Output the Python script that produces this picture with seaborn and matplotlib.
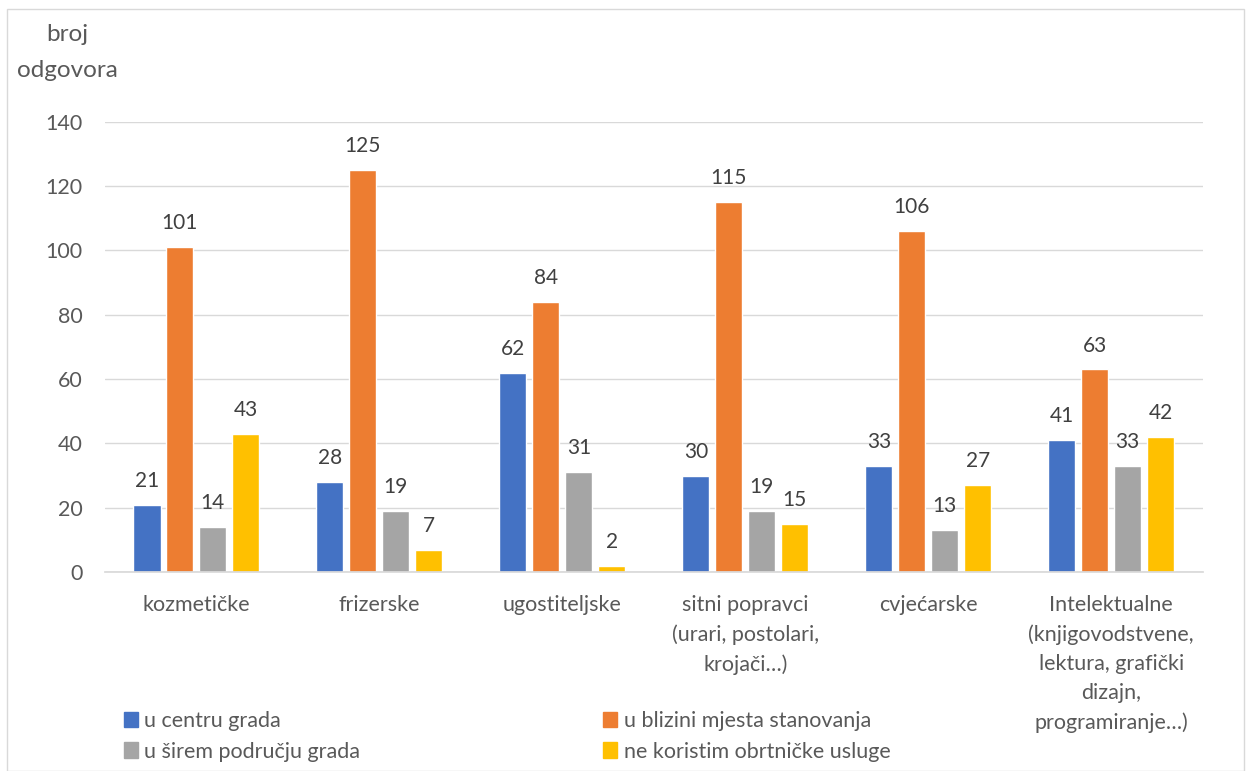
import pandas as pd
import seaborn as sns
import matplotlib.pyplot as plt
from matplotlib.patches import Rectangle

categories = [
    "kozmetičke",
    "frizerske",
    "ugostiteljske",
    "sitni popravci\n(urari, postolari,\nkrojači…)",
    "cvjećarske",
    "Intelektualne\n(knjigovodstvene,\nlektura, grafički\ndizajn,\nprogramiranje…)",
]
series = ["u centru grada", "u blizini mjesta stanovanja",
          "u širem području grada", "ne koristim obrtničke usluge"]
centar = [21, 28, 62, 30, 33, 41]
blizina = [101, 125, 84, 115, 106, 63]
sire = [14, 19, 31, 19, 13, 33]
ne_koristim = [43, 7, 2, 15, 27, 42]
colors = ["#4472c4", "#ed7d31", "#a5a5a5", "#ffc000"]

rows = []
for name, vals in zip(series, [centar, blizina, sire, ne_koristim]):
    for cat, v in zip(categories, vals):
        rows.append({"kategorija": cat, "serija": name, "broj": v})
df = pd.DataFrame(rows)

sns.set_theme(style="white")
plt.rcParams['font.family'] = ['Lato', 'DejaVu Sans']
text_col = "#595959"

fig = plt.figure(figsize=(12.49, 7.71), dpi=100)
ax = fig.add_axes([0.084, 0.258, 0.879, 0.584])
sns.barplot(data=df, x="kategorija", y="broj", hue="serija", order=categories,
            hue_order=series, palette=colors, width=0.72, gap=0.18,
            saturation=1, ax=ax, legend=False)

for cont in ax.containers:
    ax.bar_label(cont, padding=10, fontsize=15, color="#404040")

ax.set_ylim(0, 140)
ax.set_xlim(-0.5, 5.5)
ax.set_yticks(range(0, 141, 20))
ax.set_xticks(range(len(categories)))
ax.set_xticklabels(categories, linespacing=1.56)
ax.yaxis.grid(True, color="#d9d9d9", linewidth=1)
ax.set_axisbelow(True)
for s in ["top", "right", "left"]:
    ax.spines[s].set_visible(False)
ax.spines["bottom"].set_color("#d9d9d9")
ax.tick_params(axis="both", length=0, labelsize=15.5, labelcolor=text_col)
ax.tick_params(axis="y", pad=16)
ax.tick_params(axis="x", pad=16.5)
ax.set_xlabel("")
ax.set_ylabel("")

fig.text(0.054, 0.955, "broj", fontsize=17.5, color=text_col, ha="center", va="center")
fig.text(0.054, 0.909, "odgovora", fontsize=17.5, color=text_col, ha="center", va="center")

handles = [Rectangle((0, 0), 1, 1, color=c) for c in colors]
order = [0, 2, 1, 3]
leg = fig.legend([handles[i] for i in order], [series[i] for i in order],
                 ncol=2, loc="center left", bbox_to_anchor=(0.099, 0.045),
                 frameon=False, fontsize=15.5, handlelength=0.65, handleheight=0.75,
                 handletextpad=0.3, columnspacing=11.3, labelspacing=0.5,
                 borderpad=0, borderaxespad=0)
for t in leg.get_texts():
    t.set_color(text_col)

fig.patches.append(Rectangle((0.006, 0.0), 0.99, 0.988, transform=fig.transFigure,
                             fill=False, edgecolor="#d9d9d9", linewidth=1))

fig.savefig("out.png", dpi=100)
